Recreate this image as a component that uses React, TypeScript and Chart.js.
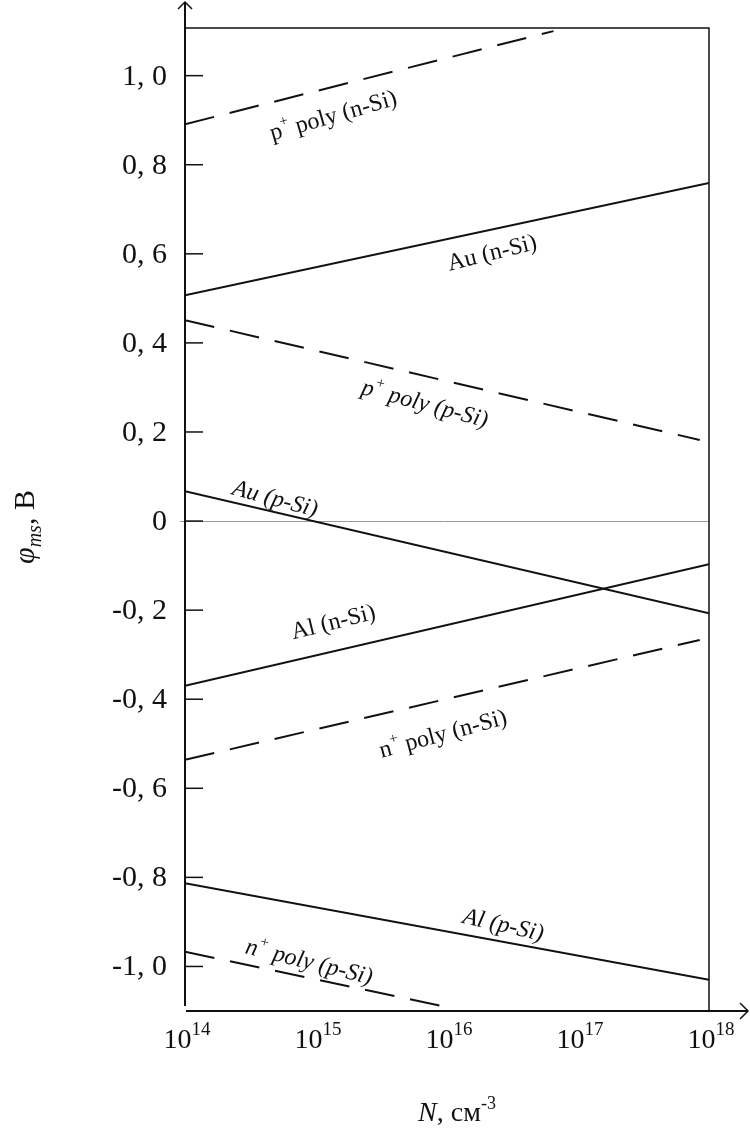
import React, { useEffect, useRef } from "react";
import { Chart, registerables } from "chart.js";

Chart.register(...registerables);

const FONT = '"Liberation Serif", "Times New Roman", "DejaVu Serif", serif';
const INK = "#111111";

// Axis ranges
const xMin = 1e14;
const xMax = 1e18;
const yMin = -1.1;
const yMax = 1.107;

// Tick labels
const xTickExponents = [14, 15, 16, 17, 18];
const yTicks = [-1.0, -0.8, -0.6, -0.4, -0.2, 0, 0.2, 0.4, 0.6, 0.8, 1.0];
const yTickLabels = ["-1, 0", "-0, 8", "-0, 6", "-0, 4", "-0, 2", "0", "0, 2", "0, 4", "0, 6", "0, 8", "1, 0"];

// Series: doping N (cm^-3) and work-function difference phi_ms (V)
const pPolyNSiN = [1e14, 6.5e16];
const pPolyNSiPhi = [0.891, 1.1];
const auNSiN = [1e14, 1e18];
const auNSiPhi = [0.507, 0.759];
const pPolyPSiN = [1e14, 8.5e17];
const pPolyPSiPhi = [0.451, 0.182];
const auPSiN = [1e14, 1e18];
const auPSiPhi = [0.067, -0.207];
const alNSiN = [1e14, 1e18];
const alNSiPhi = [-0.37, -0.097];
const nPolyNSiN = [1e14, 8.5e17];
const nPolyNSiPhi = [-0.536, -0.267];
const alPSiN = [1e14, 1e18];
const alPSiPhi = [-0.813, -1.03];
const nPolyPSiN = [1e14, 1.15e16];
const nPolyPSiPhi = [-0.967, -1.095];

type Part = { t: string; sup?: boolean; sub?: boolean; italic?: boolean };

// Curve labels: text, anchor in data coordinates (N, phi), angle
const curveLabels: { parts: Part[]; n: number; phi: number; angle: number; italic: boolean }[] = [
  { parts: [{ t: "p" }, { t: "+", sup: true }, { t: " poly (n-Si)" }], n: 1.35e15, phi: 0.912, angle: -16, italic: false },
  { parts: [{ t: "Au (n-Si)" }], n: 2.2e16, phi: 0.604, angle: -14, italic: false },
  { parts: [{ t: "p" }, { t: "+", sup: true }, { t: " poly (p-Si)" }], n: 6.8e15, phi: 0.265, angle: 15, italic: true },
  { parts: [{ t: "Au (p-Si)" }], n: 4.9e14, phi: 0.052, angle: 15, italic: true },
  { parts: [{ t: "Al (n-Si)" }], n: 1.35e15, phi: -0.225, angle: -14, italic: false },
  { parts: [{ t: "n" }, { t: "+", sup: true }, { t: " poly (n-Si)" }], n: 9.3e15, phi: -0.476, angle: -15, italic: false },
  { parts: [{ t: "Al (p-Si)" }], n: 2.7e16, phi: -0.905, angle: 13, italic: true },
  { parts: [{ t: "n" }, { t: "+", sup: true }, { t: " poly (p-Si)" }], n: 8.9e14, phi: -0.988, angle: 14, italic: true },
];

const toPoints = (xs: number[], ys: number[]) => xs.map((x, i) => ({ x, y: ys[i] }));

function drawRich(
  ctx: CanvasRenderingContext2D,
  parts: Part[],
  cx: number,
  cy: number,
  angleDeg: number,
  size: number,
  baseItalic: boolean,
  supScale = 0.65,
  supRaise = 0.45
) {
  ctx.save();
  ctx.translate(cx, cy);
  ctx.rotate((angleDeg * Math.PI) / 180);
  ctx.fillStyle = INK;
  ctx.textBaseline = "alphabetic";
  ctx.textAlign = "left";
  const fontFor = (p: Part) => {
    const it = p.italic !== undefined ? p.italic : baseItalic;
    const s = p.sup || p.sub ? Math.round(size * supScale) : size;
    return `${it ? "italic " : ""}${s}px ${FONT}`;
  };
  const widths = parts.map((p) => {
    ctx.font = fontFor(p);
    return ctx.measureText(p.t).width;
  });
  const total = widths.reduce((a, b) => a + b, 0);
  let x = -total / 2;
  const base = size * 0.33;
  parts.forEach((p, i) => {
    ctx.font = fontFor(p);
    const dy = p.sup ? -size * supRaise : p.sub ? size * 0.22 : 0;
    ctx.fillText(p.t, x, base + dy);
    x += widths[i];
  });
  ctx.restore();
}

const decorPlugin = {
  id: "decor",
  beforeDatasetsDraw(chart: any) {
    const { ctx, chartArea, scales } = chart;
    const y0 = scales.y.getPixelForValue(0);
    ctx.save();
    ctx.strokeStyle = "#9a9a9a";
    ctx.lineWidth = 1;
    ctx.beginPath();
    ctx.moveTo(chartArea.left - 5, Math.round(y0) + 0.5);
    ctx.lineTo(chartArea.right, Math.round(y0) + 0.5);
    ctx.stroke();
    ctx.restore();
  },
  afterDatasetsDraw(chart: any) {
    const { ctx, chartArea, scales } = chart;
    const { left, right, top, bottom } = chartArea;
    const W = chart.width;
    ctx.save();
    ctx.strokeStyle = INK;
    ctx.lineCap = "butt";

    // frame (top and right)
    ctx.lineWidth = 1.5;
    ctx.beginPath();
    ctx.moveTo(left, top);
    ctx.lineTo(right, top);
    ctx.lineTo(right, bottom);
    ctx.stroke();

    // y axis with arrow
    ctx.lineWidth = 2;
    ctx.beginPath();
    ctx.moveTo(left, bottom - 5);
    ctx.lineTo(left, 2);
    ctx.stroke();
    ctx.lineWidth = 1.5;
    ctx.beginPath();
    ctx.moveTo(left - 7, 9);
    ctx.lineTo(left, 2);
    ctx.lineTo(left + 7, 9);
    ctx.stroke();

    // x axis with arrow
    ctx.lineWidth = 2;
    ctx.beginPath();
    ctx.moveTo(left + 1, bottom);
    ctx.lineTo(W - 2, bottom);
    ctx.stroke();
    ctx.lineWidth = 1.5;
    ctx.beginPath();
    ctx.moveTo(W - 10, bottom - 8);
    ctx.lineTo(W - 2, bottom);
    ctx.lineTo(W - 10, bottom + 8);
    ctx.stroke();

    // inner y tick marks and labels
    ctx.lineWidth = 1.5;
    ctx.fillStyle = INK;
    ctx.font = `30px ${FONT}`;
    ctx.textAlign = "right";
    ctx.textBaseline = "middle";
    yTicks.forEach((v, i) => {
      const py = scales.y.getPixelForValue(v);
      ctx.beginPath();
      ctx.moveTo(left, py);
      ctx.lineTo(left + 18, py);
      ctx.stroke();
      ctx.fillText(yTickLabels[i], left - 18, py + 1);
    });
    ctx.restore();

    // x tick labels 10^n
    xTickExponents.forEach((e) => {
      const px = scales.x.getPixelForValue(Math.pow(10, e));
      drawRich(ctx, [{ t: "10" }, { t: String(e), sup: true }], px + 2, bottom + 28, 0, 28, false, 0.68, 0.46);
    });

    // curve labels
    curveLabels.forEach((l) => {
      const px = scales.x.getPixelForValue(l.n);
      const py = scales.y.getPixelForValue(l.phi);
      drawRich(ctx, l.parts, px, py, l.angle, 24, l.italic, 0.62, 0.45);
    });

    // axis titles
    drawRich(
      ctx,
      [{ t: "φ", italic: true }, { t: "ms", sub: true, italic: true }, { t: ", В" }],
      24,
      527,
      -90,
      30,
      false,
      0.65,
      0.45
    );
    drawRich(ctx, [{ t: "N", italic: true }, { t: ", см" }, { t: "-3", sup: true }], 457, 1112, 0, 28, false, 0.65, 0.45);
  },
};

export default function App() {
  const canvasRef = useRef<HTMLCanvasElement | null>(null);

  useEffect(() => {
    const canvas = canvasRef.current;
    if (!canvas) return;
    const solid = { borderColor: INK, borderWidth: 2, pointRadius: 0, fill: false, tension: 0 };
    const dashed = { ...solid, borderDash: [30, 16] };
    const chart = new Chart(canvas, {
      type: "line",
      data: {
        datasets: [
          { label: "p+ poly (n-Si)", data: toPoints(pPolyNSiN, pPolyNSiPhi), ...dashed },
          { label: "Au (n-Si)", data: toPoints(auNSiN, auNSiPhi), ...solid },
          { label: "p+ poly (p-Si)", data: toPoints(pPolyPSiN, pPolyPSiPhi), ...dashed },
          { label: "Au (p-Si)", data: toPoints(auPSiN, auPSiPhi), ...solid },
          { label: "Al (n-Si)", data: toPoints(alNSiN, alNSiPhi), ...solid },
          { label: "n+ poly (n-Si)", data: toPoints(nPolyNSiN, nPolyNSiPhi), ...dashed },
          { label: "Al (p-Si)", data: toPoints(alPSiN, alPSiPhi), ...solid },
          { label: "n+ poly (p-Si)", data: toPoints(nPolyPSiN, nPolyPSiPhi), ...dashed },
        ] as any,
      },
      options: {
        animation: false,
        responsive: false,
        maintainAspectRatio: false,
        devicePixelRatio: 1,
        layout: { padding: { left: 0, right: 41, top: 28, bottom: 0 } },
        plugins: { legend: { display: false }, tooltip: { enabled: false }, title: { display: false } },
        events: [],
        scales: {
          x: {
            type: "logarithmic",
            min: xMin,
            max: xMax,
            grid: { display: false, drawTicks: false },
            border: { display: false },
            ticks: { display: false },
            afterFit: (s: any) => {
              s.height = 121;
            },
          },
          y: {
            type: "linear",
            min: yMin,
            max: yMax,
            grid: { display: false, drawTicks: false },
            border: { display: false },
            ticks: { display: false },
            afterFit: (s: any) => {
              s.width = 185;
            },
          },
        },
      } as any,
      plugins: [decorPlugin],
    });
    return () => chart.destroy();
  }, []);

  return (
    <div style={{ position: "absolute", left: 0, top: 0, width: 750, height: 1132, background: "#fff" }}>
      <canvas ref={canvasRef} width={750} height={1132} style={{ display: "block", width: 750, height: 1132 }} />
    </div>
  );
}
